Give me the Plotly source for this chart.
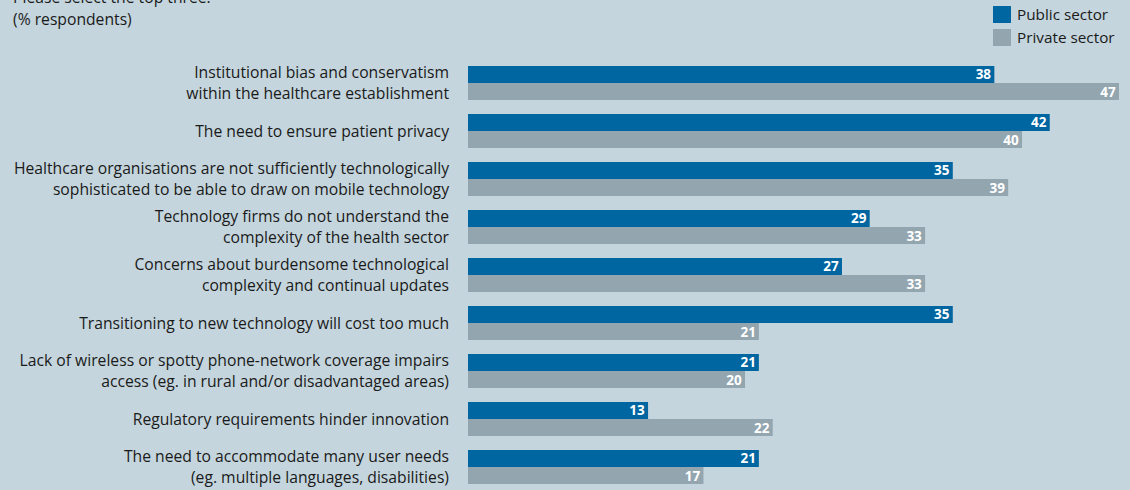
import plotly.graph_objects as go

categories = [
    "Institutional bias and conservatism<br>within the healthcare establishment",
    "The need to ensure patient privacy",
    "Healthcare organisations are not sufficiently technologically<br>sophisticated to be able to draw on mobile technology",
    "Technology firms do not understand the<br>complexity of the health sector",
    "Concerns about burdensome technological<br>complexity and continual updates",
    "Transitioning to new technology will cost too much",
    "Lack of wireless or spotty phone-network coverage impairs<br>access (eg. in rural and/or disadvantaged areas)",
    "Regulatory requirements hinder innovation",
    "The need to accommodate many user needs<br>(eg. multiple languages, disabilities)",
]
public_sector = [38, 42, 35, 29, 27, 35, 21, 13, 21]
private_sector = [47, 40, 39, 33, 33, 21, 20, 22, 17]
series_names = ["Public sector", "Private sector"]

BLUE = "#0066a1"
GREY = "#93a6b0"
BG = "#c4d5dd"
TXT = "#1a1a1a"
FONT = "Open Sans, sans-serif"
FS = 15.7

L, R, T = 468, 11, 59
PW, PH = 1130 - L - R, 490 - T


def px_x(p):
    return (p - L) / PW


def px_y(p):
    return 1 - (p - T) / PH


fig = go.Figure()
for name, vals, col in [(series_names[0], public_sector, BLUE), (series_names[1], private_sector, GREY)]:
    fig.add_trace(go.Bar(
        y=categories, x=vals, orientation="h", name=name,
        marker=dict(color=col, line=dict(width=0)),
        text=vals, textposition="inside", insidetextanchor="end", textangle=0,
        textfont=dict(color="white", size=13.5, family=FONT, weight="bold"),
        showlegend=False, hoverinfo="x+y",
    ))

fig.update_layout(
    width=1130, height=490,
    paper_bgcolor=BG, plot_bgcolor=BG,
    barmode="group", bargap=0.29, bargroupgap=0,
    margin=dict(l=L, r=R, t=T, b=0, autoexpand=False),
    font=dict(family=FONT, size=FS, color=TXT),
    uniformtext=dict(minsize=13.5, mode="show"),
    xaxis=dict(range=[0, 47], visible=False),
    yaxis=dict(range=[8.479, -0.5], showgrid=False, zeroline=False, showline=False,
               ticks="", ticklabelstandoff=18, tickfont=dict(size=FS, family=FONT, color=TXT)),
)

# legend (manual)
for i, (name, col) in enumerate(zip(series_names, [BLUE, GREY])):
    y0 = 6 + i * 23
    fig.add_shape(type="rect", xref="paper", yref="paper",
                  x0=px_x(993), x1=px_x(1011), y0=px_y(y0 + 17), y1=px_y(y0),
                  fillcolor=col, line=dict(width=0))
    fig.add_annotation(text=name, xref="paper", yref="paper", x=px_x(1015), xanchor="left",
                       y=px_y(y0 + 8.5), yanchor="middle", showarrow=False,
                       font=dict(size=15.3, family=FONT, color=TXT))

fig.add_annotation(text="Please select the top three.", xref="paper", yref="paper",
                   x=px_x(11), xanchor="left", y=px_y(-3), yanchor="middle",
                   align="left", showarrow=False, font=dict(size=FS, family=FONT, color=TXT))
fig.add_annotation(text="(% respondents)", xref="paper", yref="paper",
                   x=px_x(11), xanchor="left", y=px_y(19), yanchor="middle",
                   align="left", showarrow=False, font=dict(size=FS, family=FONT, color=TXT))

fig.write_html("out.html", config={"displayModeBar": False},
               post_script="document.body.style.margin='0';")
